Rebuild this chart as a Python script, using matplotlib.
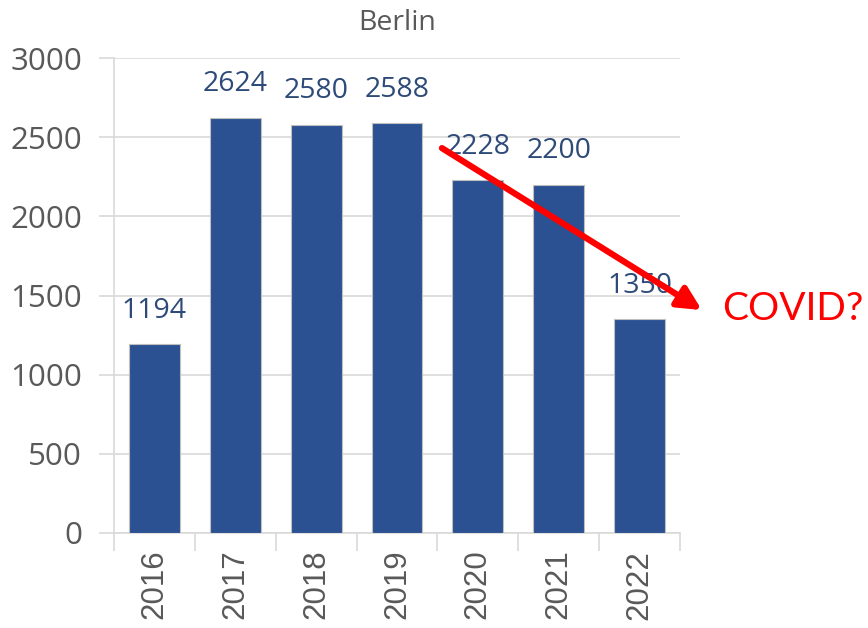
import matplotlib
matplotlib.use("Agg")
import matplotlib.pyplot as plt

years = ["2016", "2017", "2018", "2019", "2020", "2021", "2022"]
counts = [1194, 2624, 2580, 2588, 2228, 2200, 1350]

bar_color = "#2B5192"
label_color = "#2E4A78"
grid_color = "#D9D9D9"
text_grey = "#595959"

fig = plt.figure(figsize=(8.68, 6.28), dpi=100)
ax = fig.add_axes([0.1313, 0.1513, 0.6521, 0.7563])

x = list(range(len(years)))
ax.bar(x, counts, width=0.63, color=bar_color, edgecolor="#BFBFBF", linewidth=0.8, zorder=3)

for xi, v in zip(x, counts):
    ax.annotate(str(v), (xi, v), xytext=(0, 14), textcoords="offset points",
                ha="center", va="bottom", fontsize=20.5, color=label_color,
                family="Open Sans", zorder=4)

ax.set_xlim(-0.5, len(years) - 0.5)
ax.set_ylim(0, 3000)
ax.set_yticks(range(0, 3001, 500))
ax.yaxis.grid(True, color=grid_color, linewidth=1.2, zorder=0)
ax.set_axisbelow(True)

ax.set_xticks(x)
ax.set_xticklabels(years, rotation=90, fontsize=22.5, color=text_grey, family="Liberation Sans")
ax.tick_params(axis="x", which="major", length=0, pad=12)
ax.set_xticks([i - 0.5 for i in range(len(years) + 1)], minor=True)
ax.tick_params(axis="x", which="minor", length=13, color=grid_color, width=1.2)

ax.tick_params(axis="y", length=11, color=grid_color, width=1.2, labelsize=22.5,
               labelcolor=text_grey, pad=12)
for lbl in ax.get_yticklabels():
    lbl.set_family("Open Sans")

for s in ["top", "right"]:
    ax.spines[s].set_visible(False)
ax.spines["left"].set_color(grid_color)
ax.spines["bottom"].set_color(grid_color)
ax.spines["left"].set_linewidth(1.2)
ax.spines["bottom"].set_linewidth(1.2)

ax.set_title("Berlin", fontsize=20.5, color=text_grey, pad=20, family="Open Sans")

# red trend arrow + note
arrow_start = (3.556, 2431)
arrow_end = (6.77, 1408)
ax.annotate("", xy=arrow_end, xytext=arrow_start, annotation_clip=False,
            arrowprops=dict(arrowstyle="-|>,head_length=1.4,head_width=0.7",
                            color="#FF0000", lw=4.5, shrinkA=0, shrinkB=0), zorder=5)
ax.text(7.02, 1415, "COVID?", color="#FF0000", fontsize=28, family="Lato",
        ha="left", va="center", clip_on=False)

fig.savefig("out.png", dpi=100)
